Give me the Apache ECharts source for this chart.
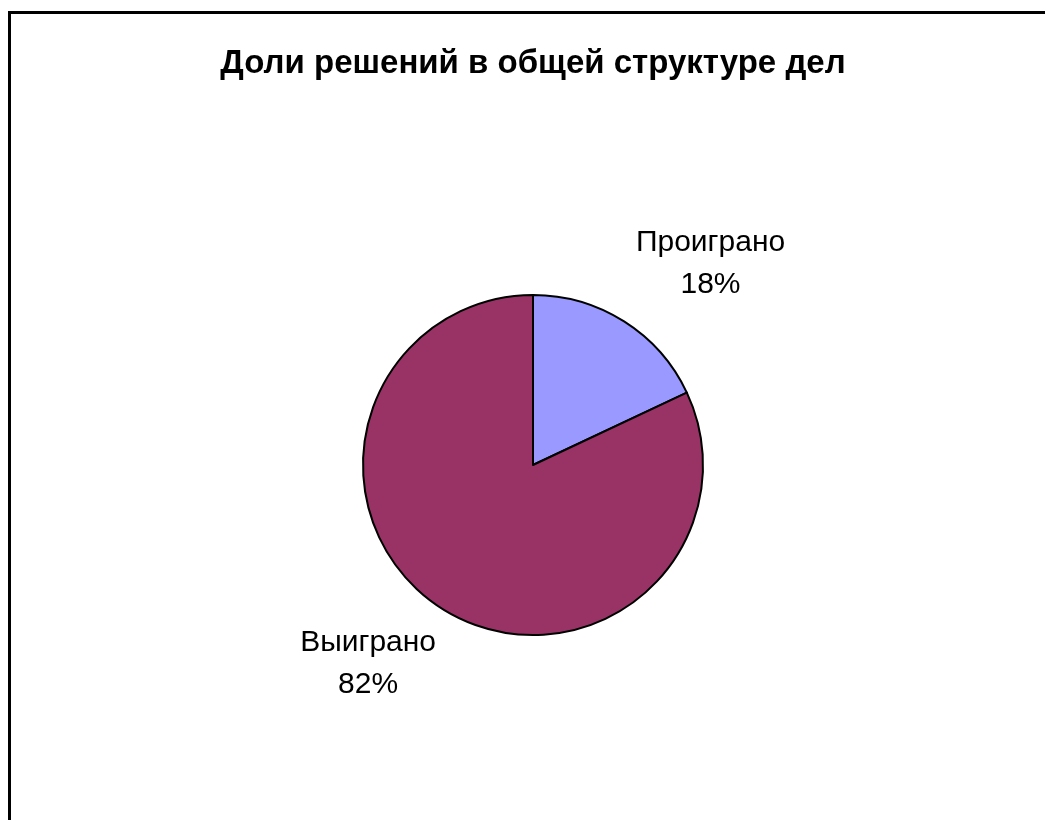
<!DOCTYPE html>
<html>
<head>
<meta charset="utf-8">
<style>
html,body{margin:0;padding:0;background:#fff;}
#chart{width:1045px;height:820px;}
</style>
<script src="https://cdn.jsdelivr.net/npm/echarts@6/dist/echarts.min.js"></script>
</head>
<body>
<div id="chart"></div>
<script>
const titleText = 'Доли решений в общей структуре дел';
const categories = ['Проиграно', 'Выиграно'];
const values = [18, 82];
const colors = ['#9999FF', '#993366'];
const lineLengths = [68, 65];
const lineLengths2 = [45, 34];

const chart = echarts.init(document.getElementById('chart'), null, {renderer: 'canvas'});
const data = categories.map((name, i) => ({
  name: name,
  value: values[i],
  itemStyle: {color: colors[i]},
  labelLine: {show: false, length: lineLengths[i], length2: lineLengths2[i]}
}));

chart.setOption({
  backgroundColor: '#ffffff',
  animation: false,
  title: {
    text: titleText,
    left: 528,
    textAlign: 'center',
    top: 42,
    textStyle: {fontFamily: 'Liberation Sans, Arial, sans-serif', fontWeight: 'bold', fontSize: 33, color: '#000'}
  },
  graphic: [{
    type: 'rect',
    shape: {x: 9.5, y: 12.5, width: 1100, height: 900},
    style: {fill: 'none', stroke: '#000', lineWidth: 3},
    silent: true
  }],
  series: [{
    type: 'pie',
    center: [533, 465],
    radius: [0, 170],
    startAngle: 90,
    clockwise: true,
    avoidLabelOverlap: false,
    itemStyle: {borderColor: '#000', borderWidth: 2},
    label: {
      show: true,
      position: 'outside',
      formatter: '{b}\n{d}%',
      fontFamily: 'Liberation Sans, Arial, sans-serif',
      fontSize: 30,
      lineHeight: 42,
      color: '#000'
    },
    labelLine: {show: false},
    labelLayout: function () { return {align: 'center', verticalAlign: 'middle'}; },
    emphasis: {disabled: true},
    data: data
  }]
});
</script>
</body>
</html>
